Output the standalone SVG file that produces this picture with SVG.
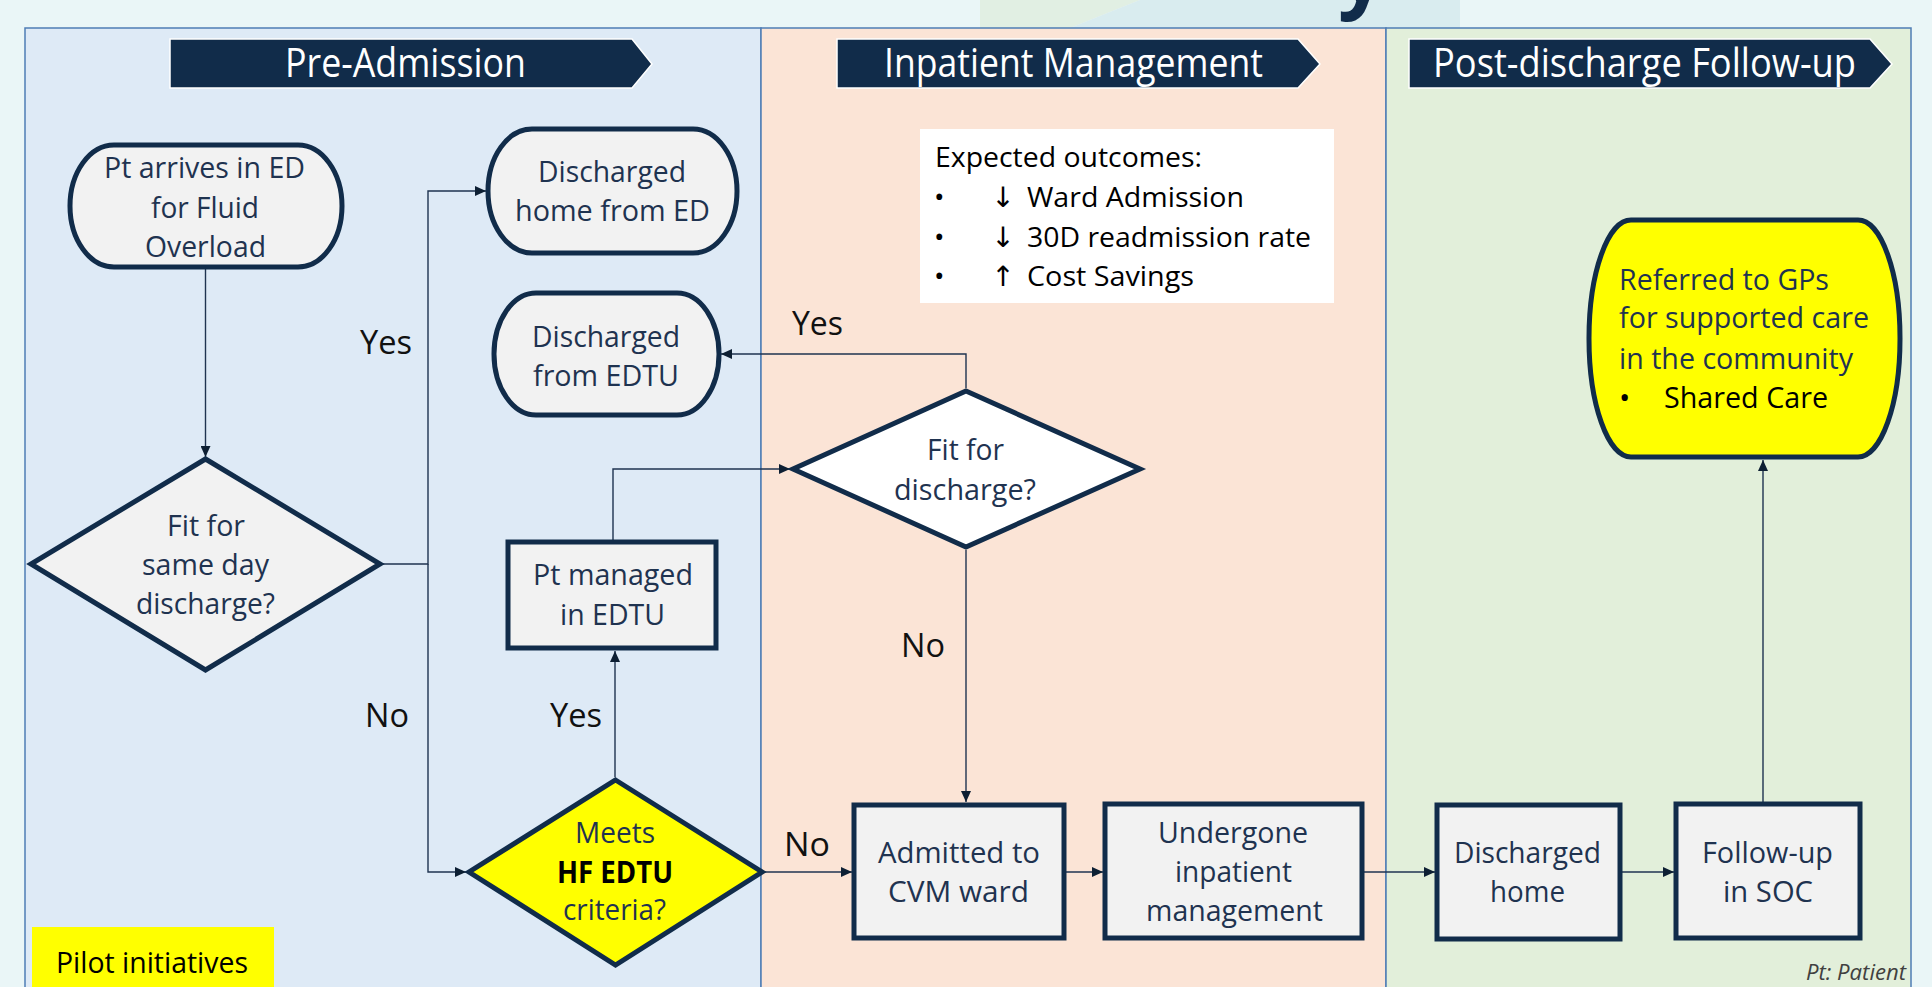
<svg xmlns="http://www.w3.org/2000/svg" width="1932" height="987" viewBox="0 0 1932 987">
<style>
.lane{stroke:#4F7DB5;stroke-width:1.5}
.banner{fill:#112C4A;stroke:#FFFFFF;stroke-width:1.5}
.bt{font-family:"Open Sans","Noto Sans","DejaVu Sans",sans-serif;font-size:41px;fill:#FFFFFF}
.term{fill:#F2F2F2;stroke:#112C4A;stroke-width:5}
.box{fill:#F2F2F2;stroke:#112C4A;stroke-width:5}
.dia{fill:#F2F2F2;stroke:#112C4A;stroke-width:5;stroke-linejoin:miter}
.nt{font-family:"Open Sans","Noto Sans","DejaVu Sans",sans-serif;font-size:30px;fill:#1F3350}
.blk{fill:#000000}
.lbl{font-family:"Open Sans","Noto Sans","DejaVu Sans",sans-serif;font-size:33px;fill:#111111}
.eo{font-family:"Open Sans","Noto Sans","DejaVu Sans",sans-serif;font-size:28px;fill:#000000}
.con{fill:none;stroke:#1F3350;stroke-width:1.4}
</style>
<defs>
<marker id="arr" markerUnits="userSpaceOnUse" markerWidth="11" markerHeight="10" refX="11" refY="5" orient="auto">
<path d="M0,0 L11,5 L0,10 z" fill="#0D1F33"/>
</marker>
</defs>

<!-- background -->
<rect x="0" y="0" width="1932" height="987" fill="#EAF6F7"/>
<polygon points="980,0 1140,0 1070,28 980,28" fill="#E1EFE3"/>
<polygon points="1140,0 1460,0 1460,28 1070,28" fill="#D9ECEF"/>
<text x="1338" y="2" font-family="'Open Sans','DejaVu Sans',sans-serif" font-size="84" font-weight="bold" fill="#112C4A">y</text>

<!-- swimlanes -->
<g id="lanes">
<rect class="lane" x="25" y="28" width="736" height="975" fill="#DEEAF6"/>
<rect class="lane" x="761" y="28" width="625" height="975" fill="#FBE4D6" stroke="#2E4A6E"/>
<rect class="lane" x="1386" y="28" width="525" height="975" fill="#E2EFDA"/>
</g>

<!-- phase banners -->
<g id="banner-pre">
<polygon class="banner" points="170,39 632,39 652,64 632,88 170,88"/>
<text class="bt" x="285" y="77" textLength="241" lengthAdjust="spacingAndGlyphs">Pre-Admission</text>
</g>
<g id="banner-inpatient">
<polygon class="banner" points="837,39 1298,39 1320,64 1298,88 837,88"/>
<text class="bt" x="884" y="77" textLength="379" lengthAdjust="spacingAndGlyphs">Inpatient Management</text>
</g>
<g id="banner-post">
<polygon class="banner" points="1409,39 1870,39 1892,64 1870,88 1409,88"/>
<text class="bt" x="1433" y="77" textLength="423" lengthAdjust="spacingAndGlyphs">Post-discharge Follow-up</text>
</g>

<!-- expected outcomes -->
<g id="expected-outcomes">
<rect x="920" y="129" width="414" height="174" fill="#FFFFFF"/>
<text class="eo" x="935" y="167" textLength="267" lengthAdjust="spacingAndGlyphs">Expected outcomes:</text>
<text class="eo" x="934" y="207">•</text>
<text class="eo" x="934" y="247">•</text>
<text class="eo" x="934" y="286">•</text>
<text class="eo" x="1003" y="207" text-anchor="middle">↓</text>
<text class="eo" x="1003" y="247" text-anchor="middle">↓</text>
<text class="eo" x="1003" y="286" text-anchor="middle">↑</text>
<text class="eo" x="1027" y="207" textLength="217" lengthAdjust="spacingAndGlyphs">Ward Admission</text>
<text class="eo" x="1027" y="247" textLength="284" lengthAdjust="spacingAndGlyphs">30D readmission rate</text>
<text class="eo" x="1027" y="286" textLength="167" lengthAdjust="spacingAndGlyphs">Cost Savings</text>
</g>

<!-- connectors -->
<g id="connectors">
<path class="con" d="M205.5,269 L205.5,457" marker-end="url(#arr)"/>
<path class="con" d="M383,564 L428,564 L428,191 L486,191" marker-end="url(#arr)"/>
<path class="con" d="M428,564 L428,872 L466,872" marker-end="url(#arr)"/>
<path class="con" d="M615,777 L615,651" marker-end="url(#arr)"/>
<path class="con" d="M613,540 L613,469 L790,469" marker-end="url(#arr)"/>
<path class="con" d="M966,388 L966,354 L721,354" marker-end="url(#arr)"/>
<path class="con" d="M966,550 L966,802" marker-end="url(#arr)"/>
<path class="con" d="M765,872 L852,872" marker-end="url(#arr)"/>
<path class="con" d="M1066,872 L1103,872" marker-end="url(#arr)"/>
<path class="con" d="M1364,872 L1435,872" marker-end="url(#arr)"/>
<path class="con" d="M1622,872 L1674,872" marker-end="url(#arr)"/>
<path class="con" d="M1763,802 L1763,460" marker-end="url(#arr)"/>
</g>

<!-- connector labels -->
<g id="labels">
<text class="lbl" x="360" y="354" textLength="52" lengthAdjust="spacingAndGlyphs">Yes</text>
<text class="lbl" x="365" y="727" textLength="44" lengthAdjust="spacingAndGlyphs">No</text>
<text class="lbl" x="550" y="727" textLength="52" lengthAdjust="spacingAndGlyphs">Yes</text>
<text class="lbl" x="792" y="335" textLength="51" lengthAdjust="spacingAndGlyphs">Yes</text>
<text class="lbl" x="901" y="657" textLength="44" lengthAdjust="spacingAndGlyphs">No</text>
<text class="lbl" x="784" y="856" textLength="46" lengthAdjust="spacingAndGlyphs">No</text>
</g>

<!-- nodes -->
<g id="pt-arrives">
<rect class="term" x="70" y="145" width="272" height="122" rx="44" ry="61"/>
<text class="nt" x="104" y="178" textLength="201" lengthAdjust="spacingAndGlyphs">Pt arrives in ED</text>
<text class="nt" x="151" y="218" textLength="108" lengthAdjust="spacingAndGlyphs">for Fluid</text>
<text class="nt" x="145" y="257" textLength="121" lengthAdjust="spacingAndGlyphs">Overload</text>
</g>
<g id="discharged-home-ed">
<rect class="term" x="488" y="129" width="249" height="124" rx="44" ry="62"/>
<text class="nt" x="538" y="182" textLength="148" lengthAdjust="spacingAndGlyphs">Discharged</text>
<text class="nt" x="515" y="221" textLength="195" lengthAdjust="spacingAndGlyphs">home from ED</text>
</g>
<g id="discharged-edtu">
<rect class="term" x="494" y="293" width="225" height="122" rx="42" ry="61"/>
<text class="nt" x="532" y="347" textLength="148" lengthAdjust="spacingAndGlyphs">Discharged</text>
<text class="nt" x="533" y="386" textLength="146" lengthAdjust="spacingAndGlyphs">from EDTU</text>
</g>
<g id="fit-same-day">
<polygon class="dia" points="205.5,459 380,564 205.5,670 31,564"/>
<text class="nt" x="167" y="536" textLength="78" lengthAdjust="spacingAndGlyphs">Fit for</text>
<text class="nt" x="142" y="575" textLength="127" lengthAdjust="spacingAndGlyphs">same day</text>
<text class="nt" x="136" y="614" textLength="139" lengthAdjust="spacingAndGlyphs">discharge?</text>
</g>
<g id="pt-managed-edtu">
<rect class="box" x="508" y="542" width="208" height="106"/>
<text class="nt" x="533" y="585" textLength="160" lengthAdjust="spacingAndGlyphs">Pt managed</text>
<text class="nt" x="560" y="625" textLength="105" lengthAdjust="spacingAndGlyphs">in EDTU</text>
</g>
<g id="meets-hf-edtu">
<polygon class="dia" points="615.5,780 762,872 615.5,965 469,872" style="fill:#FFFF00"/>
<text class="nt" x="575" y="843" textLength="80" lengthAdjust="spacingAndGlyphs">Meets</text>
<text class="nt blk" x="557" y="883" font-weight="bold" textLength="116" lengthAdjust="spacingAndGlyphs">HF EDTU</text>
<text class="nt" x="563" y="920" textLength="103" lengthAdjust="spacingAndGlyphs">criteria?</text>
</g>
<g id="fit-discharge">
<polygon class="dia" points="966,391 1140,469 966,547 793,469" style="fill:#FFFFFF"/>
<text class="nt" x="927" y="460" textLength="77" lengthAdjust="spacingAndGlyphs">Fit for</text>
<text class="nt" x="894" y="500" textLength="142" lengthAdjust="spacingAndGlyphs">discharge?</text>
</g>
<g id="admitted-cvm">
<rect class="box" x="854" y="805" width="210" height="133"/>
<text class="nt" x="878" y="863" textLength="162" lengthAdjust="spacingAndGlyphs">Admitted to</text>
<text class="nt" x="888" y="902" textLength="141" lengthAdjust="spacingAndGlyphs">CVM ward</text>
</g>
<g id="undergone-inpatient">
<rect class="box" x="1105" y="804" width="257" height="134"/>
<text class="nt" x="1158" y="843" textLength="150" lengthAdjust="spacingAndGlyphs">Undergone</text>
<text class="nt" x="1175" y="882" textLength="117" lengthAdjust="spacingAndGlyphs">inpatient</text>
<text class="nt" x="1146" y="921" textLength="177" lengthAdjust="spacingAndGlyphs">management</text>
</g>
<g id="discharged-home">
<rect class="box" x="1437" y="805" width="183" height="134"/>
<text class="nt" x="1454" y="863" textLength="147" lengthAdjust="spacingAndGlyphs">Discharged</text>
<text class="nt" x="1490" y="902" textLength="75" lengthAdjust="spacingAndGlyphs">home</text>
</g>
<g id="follow-up-soc">
<rect class="box" x="1676" y="804" width="184" height="134"/>
<text class="nt" x="1702" y="863" textLength="131" lengthAdjust="spacingAndGlyphs">Follow-up</text>
<text class="nt" x="1723" y="902" textLength="90" lengthAdjust="spacingAndGlyphs">in SOC</text>
</g>
<g id="referred-gps">
<rect class="term" x="1589" y="220" width="311" height="237" rx="42" ry="118" style="fill:#FFFF00"/>
<text class="nt" x="1619" y="290" textLength="210" lengthAdjust="spacingAndGlyphs">Referred to GPs</text>
<text class="nt" x="1619" y="328" textLength="250" lengthAdjust="spacingAndGlyphs">for supported care</text>
<text class="nt" x="1619" y="369" textLength="234" lengthAdjust="spacingAndGlyphs">in the community</text>
<text class="nt blk" x="1619" y="408">•</text>
<text class="nt blk" x="1664" y="408" textLength="164" lengthAdjust="spacingAndGlyphs">Shared Care</text>
</g>

<!-- legend / notes -->
<g id="pilot-initiatives">
<rect x="32" y="927" width="242" height="70" fill="#FFFF00"/>
<text class="nt blk" x="56" y="973" textLength="192" lengthAdjust="spacingAndGlyphs">Pilot initiatives</text>
</g>
<g id="footnote">
<text x="1806" y="980" font-family="'Open Sans','DejaVu Sans',sans-serif" font-size="22" font-style="italic" fill="#404040" textLength="100" lengthAdjust="spacingAndGlyphs">Pt: Patient</text>
</g>
</svg>
